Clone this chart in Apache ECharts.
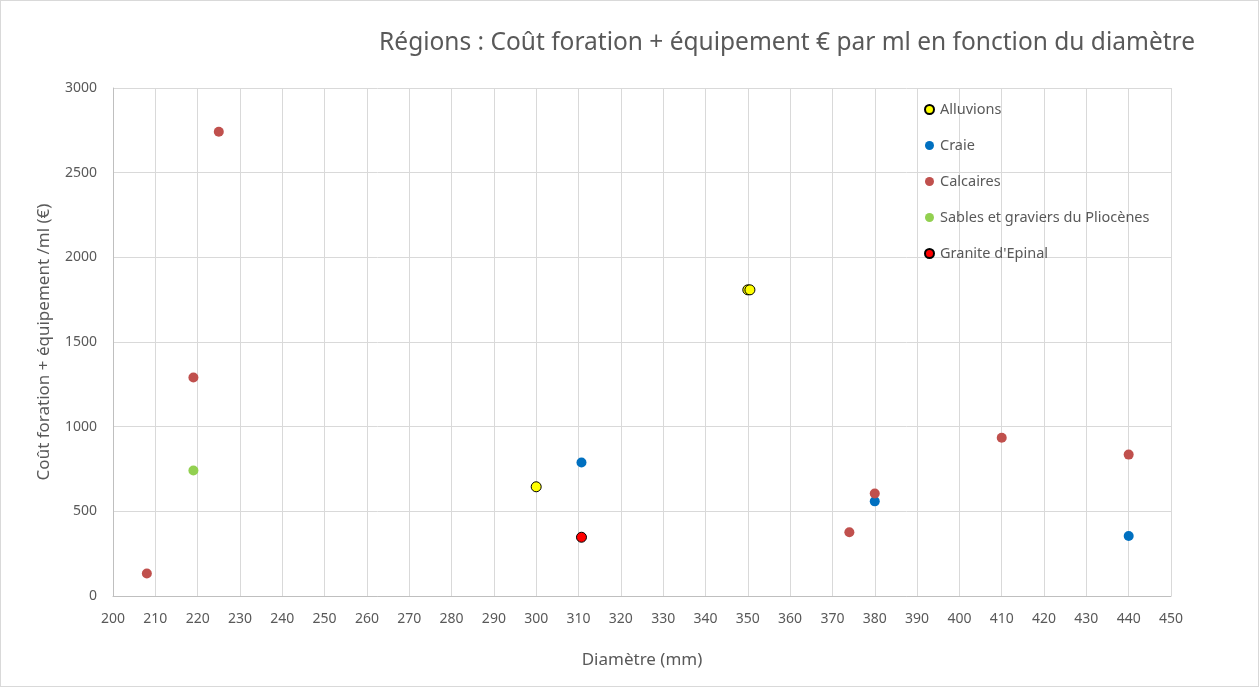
<!DOCTYPE html>
<html>
<head>
<meta charset="utf-8">
<script src="https://cdn.jsdelivr.net/npm/echarts@6/dist/echarts.min.js"></script>
<style>
  html, body { margin: 0; padding: 0; background: #fff; }
  #chart { width: 1259px; height: 687px; box-sizing: border-box; border: 1px solid #d9d9d9; }
</style>
</head>
<body>
<div id="chart"></div>
<script>
  // données : [diamètre mm, coût €/ml]
  const alluvions = [[300, 645], [350, 1808], [350.5, 1808]]
  const craie = [[310.7, 788], [380, 559], [440, 354]]
  const calcaires = [[208, 133], [219, 1290], [225, 2742], [374, 376], [380, 605], [410, 935], [440, 835]]
  const sables = [[219, 741]]
  const granite = [[310.7, 347]]

  const seriesNames = ['Alluvions', 'Craie', 'Calcaires', 'Sables et graviers du Pliocènes', "Granite d'Epinal"]
  const seriesData = [alluvions, craie, calcaires, sables, granite]
  const colors = ['#ffff00', '#0070c0', '#c0504d', '#92d050', '#ff0000']
  const bordered = [true, false, false, false, true]

  const textColor = '#595959'
  const font = 'Noto Sans'

  const chart = echarts.init(document.getElementById('chart'))

  const series = seriesNames.map((name, i) => ({
    name: name,
    type: 'scatter',
    symbol: 'circle',
    symbolSize: 10,
    data: seriesData[i],
    itemStyle: {
      color: colors[i],
      borderColor: bordered[i] ? '#000' : colors[i],
      borderWidth: bordered[i] ? 1 : 0,
      opacity: 1
    }
  }))

  chart.setOption({
    animation: false,
    textStyle: { fontFamily: font },
    title: {
      text: 'Régions : Coût foration + équipement € par ml en fonction du diamètre',
      right: 58,
      top: 25,
      textStyle: { fontFamily: font, fontSize: 24.5, fontWeight: 'normal', color: textColor }
    },
    legend: {
      orient: 'vertical',
      left: 918,
      top: 96,
      itemGap: 21,
      itemWidth: 9,
      itemHeight: 9,
      icon: 'circle',
      data: seriesNames,
      textStyle: { fontFamily: font, fontSize: 14.5, color: textColor, padding: [0, 0, 0, 1] }
    },
    grid: { left: 112, right: 87, top: 87, bottom: 90 },
    xAxis: {
      type: 'value',
      min: 200,
      max: 450,
      interval: 10,
      name: 'Diamètre (mm)',
      nameLocation: 'middle',
      nameGap: 56,
      nameTextStyle: { fontFamily: font, fontSize: 17, color: textColor },
      axisLine: { show: true, lineStyle: { color: '#bfbfbf' } },
      axisTick: { show: false },
      axisLabel: { fontFamily: font, fontSize: 14, color: textColor, margin: 16 },
      splitLine: { show: true, lineStyle: { color: '#d9d9d9' } }
    },
    yAxis: {
      type: 'value',
      min: 0,
      max: 3000,
      interval: 500,
      name: 'Coût foration + équipement /ml (€)',
      nameLocation: 'middle',
      nameGap: 60,
      nameTextStyle: { fontFamily: font, fontSize: 17, color: textColor },
      axisLine: { show: true, lineStyle: { color: '#bfbfbf' } },
      axisTick: { show: false },
      axisLabel: { fontFamily: font, fontSize: 14, color: textColor, margin: 16, formatter: (v) => String(v) },
      splitLine: { show: true, lineStyle: { color: '#d9d9d9' } }
    },
    series: series
  })
</script>
</body>
</html>
